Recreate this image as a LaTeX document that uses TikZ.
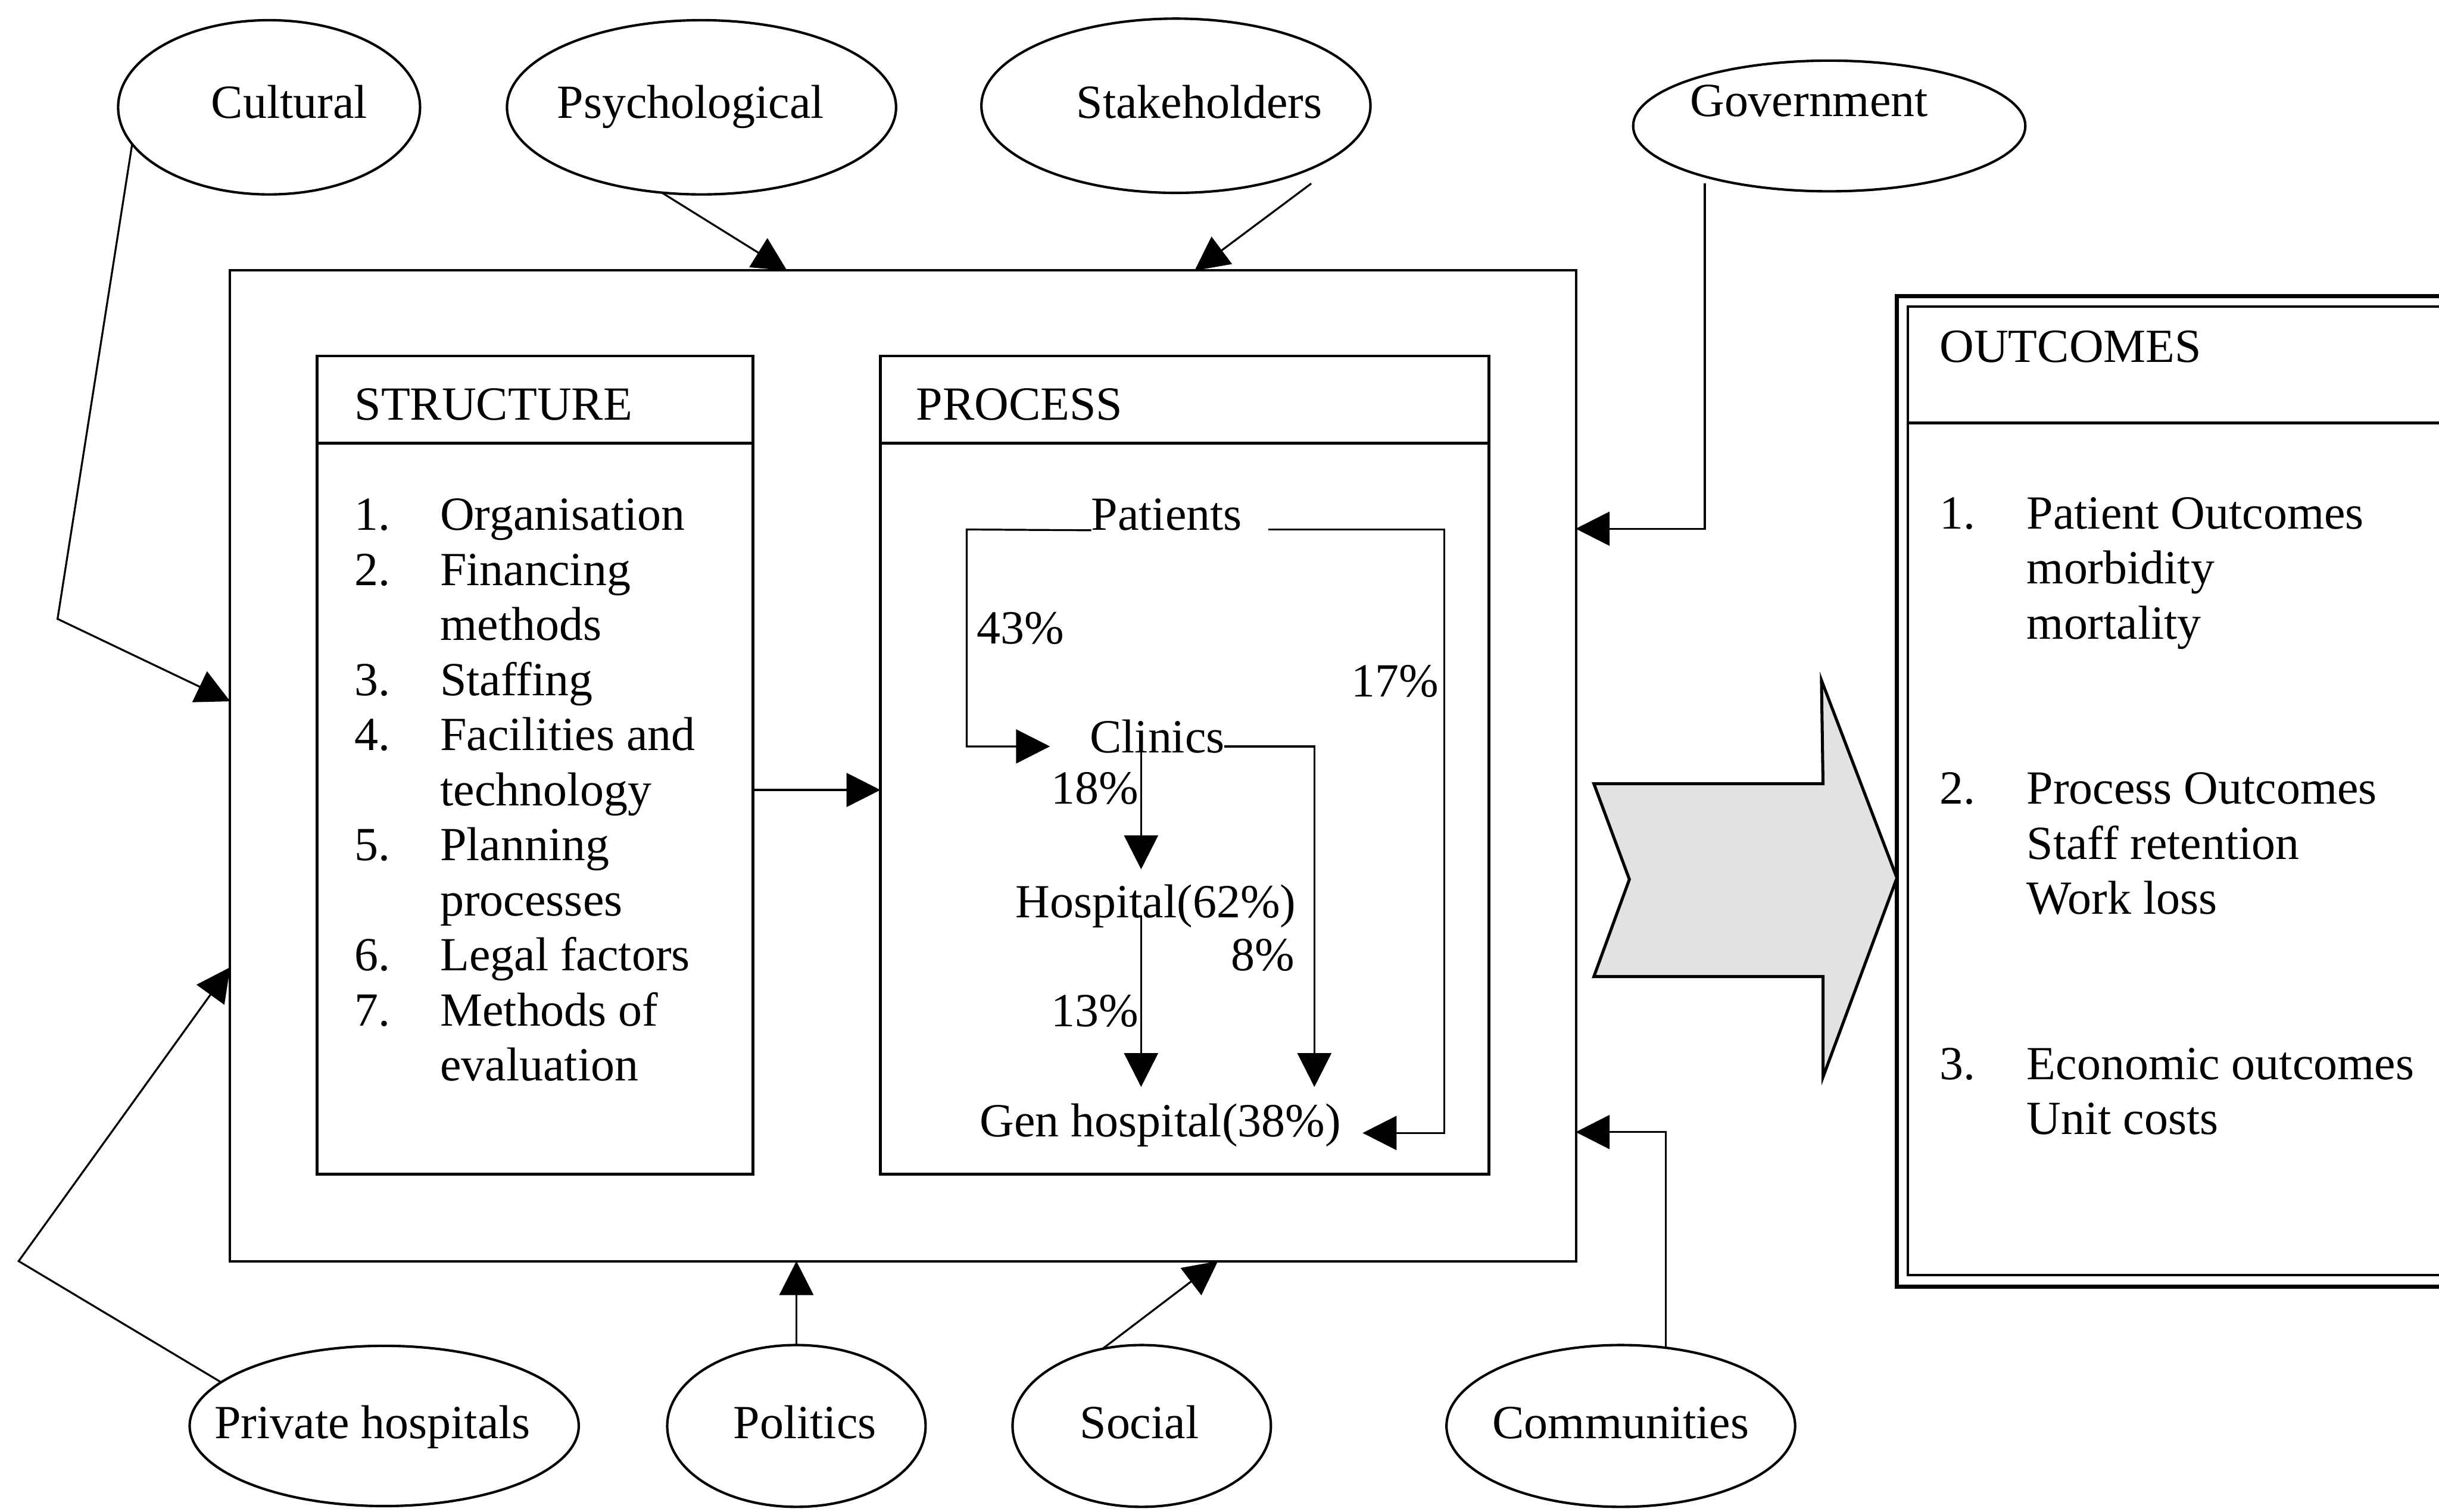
\documentclass[tikz,border=0pt]{standalone}
\usepackage{fontspec}
\setmainfont{Liberation Serif}
\usetikzlibrary{arrows.meta,shapes.geometric}

\newcommand{\diagfont}{\fontsize{8.7}{10.07}\selectfont}
\definecolor{chevgray}{HTML}{E2E2E2}

\begin{document}
\begin{tikzpicture}[x=0.01cm, y=-0.01cm,
  every node/.style={inner sep=0pt, outer sep=0pt},
  txt/.style={font=\diagfont, text=black},
  lbl/.style={txt, anchor=base},
  ell/.style={draw, ellipse, line width=0.45pt},
  box/.style={draw, rectangle, line width=0.5pt},
  wire/.style={line width=0.35pt},
  link/.style={wire, -{Triangle[length=6.2pt, width=6.2pt]}},
]
\useasboundingbox (0,0) rectangle (1568,972);
\clip (0,0) rectangle (1568,972);

% ---------- influencing factors (top row) ----------
\node[ell, minimum width=1.94cm, minimum height=1.12cm] (cult) at (173,69) {};
\node[ell, minimum width=2.50cm, minimum height=1.12cm] (psy)  at (451,69) {};
\node[ell, minimum width=2.50cm, minimum height=1.12cm] (stk)  at (756,68) {};
\node[ell, minimum width=2.52cm, minimum height=0.84cm] (gov)  at (1176,81) {};
\node[lbl] (cult-t) at (186,76) {Cultural};
\node[lbl] (psy-t)  at (444,76) {Psychological};
\node[lbl] (stk-t)  at (771,76) {Stakeholders};
\node[lbl] (gov-t)  at (1163,75) {Government};

% ---------- influencing factors (bottom row) ----------
\node[ell, minimum width=2.50cm, minimum height=1.03cm] (priv) at (247,917) {};
\node[ell, minimum width=1.66cm, minimum height=1.04cm] (pol)  at (512,917) {};
\node[ell, minimum width=1.66cm, minimum height=1.04cm] (soc)  at (734,917) {};
\node[ell, minimum width=2.24cm, minimum height=1.04cm] (com)  at (1042,917) {};
\node[lbl] (priv-t) at (239.5,925) {Private hospitals};
\node[lbl] (pol-t)  at (517.5,925) {Politics};
\node[lbl] (soc-t)  at (732.5,925) {Social};
\node[lbl] (com-t)  at (1042,925) {Communities};

% ---------- health system frame ----------
\node[box, minimum width=8.65cm, minimum height=6.37cm] (env) at (580.5,492.5) {};

% structure panel
\node[box, minimum width=2.80cm, minimum height=5.26cm] (str) at (344,492) {};
\draw[line width=0.5pt] (204,285) -- (484,285);
\node[txt, anchor=base west] (str-h) at (228,270) {STRUCTURE};
\node[txt, anchor=base west] (str-l) at (228,341) {%
  \begin{tabular}[t]{@{}p{0.55cm}@{}l@{}}
  1.&Organisation\\
  2.&Financing\\
    &methods\\
  3.&Staffing\\
  4.&Facilities and\\
    &technology\\
  5.&Planning\\
    &processes\\
  6.&Legal factors\\
  7.&Methods of\\
    &evaluation
  \end{tabular}};

% process panel
\node[box, minimum width=3.91cm, minimum height=5.26cm] (pro) at (761.5,492) {};
\draw[line width=0.5pt] (566,285) -- (957,285);
\node[txt, anchor=base west] (pro-h) at (589,270) {PROCESS};

\node[lbl] (pat) at (750,341) {Patients};
\node[lbl] (cli) at (744,484) {Clinics};
\node[lbl] (hos) at (743,590) {Hospital(62\%)};
\node[lbl] (gen) at (746,731) {Gen hospital(38\%)};
\node[lbl] (p43) at (656,414) {43\%};
\node[lbl] (p17) at (897,448) {17\%};
\node[lbl] (p18) at (704,517) {18\%};
\node[lbl] (p8)  at (812,624) {8\%};
\node[lbl] (p13) at (704,660) {13\%};

% patient flow ends
\coordinate (pat-r)  at (815.5,340.5);
\coordinate (cli-in) at (675,480);
\coordinate (cli-d)  at (733.6,477);
\coordinate (cli-r)  at (787,480);
\coordinate (hos-in) at (733.6,559);
\coordinate (hos-d)  at (733.6,589);
\coordinate (gen-a)  at (733.6,699);
\coordinate (gen-b)  at (845,699);
\coordinate (gen-c)  at (876,728.6);

\draw[link] (pat.base west) -- (621.5,340.5) -- (621.5,480) -- (cli-in);
\draw[link] (pat-r) -- (928.5,340.5) -- (928.5,728.6) -- (gen-c);
\draw[link] (cli-d) -- (hos-in);
\draw[link] (cli-r) -- (845,480) -- (gen-b);
\draw[link] (hos-d) -- (gen-a);

% structure feeds process
\coordinate (str-o) at (484,508);
\coordinate (pro-i) at (566,508);
\draw[link] (str-o) -- (pro-i);

% ---------- outcomes ----------
\node[draw, line width=0.75pt, minimum width=4.2cm, minimum height=6.365cm,
      anchor=north west] (outc) at (1219.5,190.5) {};
\draw[line width=0.45pt] (1226.5,197) rectangle (1640,820);
\draw[line width=0.5pt] (1226.5,272) -- (1640,272);
\node[txt, anchor=base west] (outc-h) at (1247,233) {OUTCOMES};
\node[txt, anchor=base west] (outc-l) at (1247,340) {%
  \begin{tabular}[t]{@{}p{0.56cm}@{}l@{}}
  1.&Patient Outcomes\\
    &morbidity\\
    &mortality\\
    &\\
    &\\
  2.&Process Outcomes\\
    &Staff retention\\
    &Work loss\\
    &\\
    &\\
  3.&Economic outcomes\\
    &Unit costs
  \end{tabular}};

% broad arrow from the system to its outcomes
\draw[line width=0.55pt, fill=chevgray, line join=miter]
  (1024.7,504) -- (1172,504) -- (1171,437.5) -- (outc.west |- 0,564.6)
  -- (1172,692.6) -- (1172,628) -- (1024.7,628) -- (1047.5,565.5) -- cycle;

% ---------- factors acting on the system ----------
\coordinate (env-cult) at (148,451);
\coordinate (env-priv) at (148,622);
\coordinate (env-psy)  at (506,174);
\coordinate (env-stk)  at (768,174);
\coordinate (env-gov)  at (1013,340);
\coordinate (env-pol)  at (512,811);
\coordinate (env-soc)  at (783,811);
\coordinate (env-com)  at (1013,728);
\coordinate (stk-o) at (843,118);
\coordinate (gov-o) at (1096,118);
\coordinate (com-o) at (1071,867);

\draw[link] (cult.195) -- (37,398) -- (env-cult);
\draw[link] (priv.165) -- (12,811) -- (env-priv);
\draw[link] (psy.245) -- (env-psy);
\draw[link] (stk-o) -- (env-stk);
\draw[link] (gov-o) -- (1096,340) -- (env-gov);
\draw[link] (pol.north) -- (env-pol);
\draw[link] (soc.117) -- (env-soc);
\draw[link] (com-o) -- (1071,728) -- (env-com);

\end{tikzpicture}
\end{document}
